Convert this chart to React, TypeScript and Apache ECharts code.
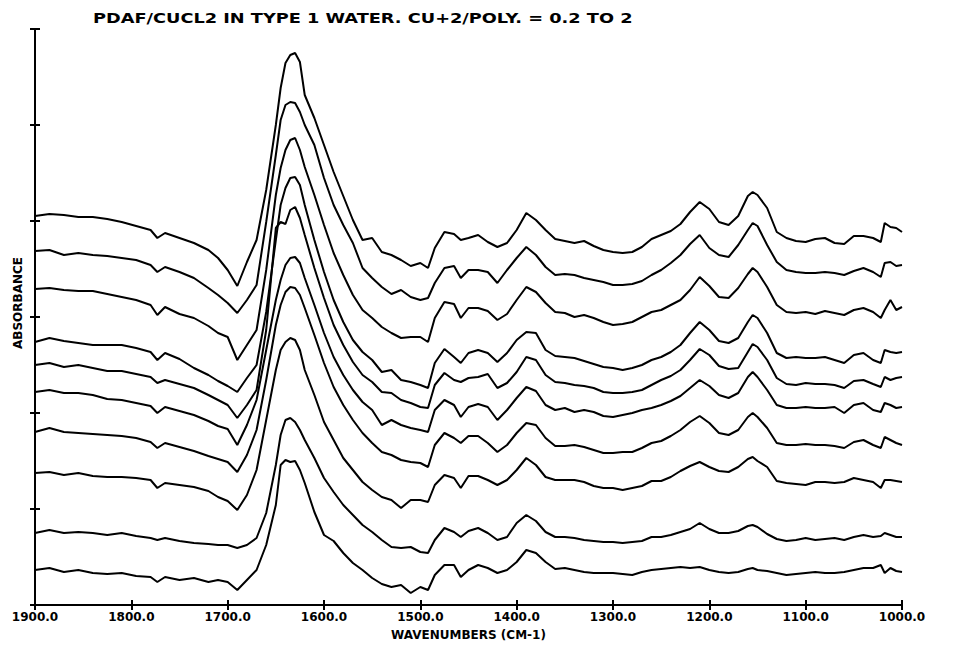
import React, { useEffect, useRef } from "react";
import * as echarts from "echarts";

// Wavenumbers (cm-1) at which the ten spectra were read
const wavenumbers = [
  1900, 1885, 1870, 1855, 1840, 1825, 1810, 1795, 1780, 1773, 1765, 1750, 1735, 1720, 1710, 1700,
  1690, 1680, 1670, 1660, 1650, 1645, 1640, 1635, 1630, 1625, 1620, 1610, 1600, 1590, 1580, 1570, 1560, 1550, 1540, 1530, 1520, 1510, 1500,
  1492, 1485, 1475, 1465, 1458, 1450, 1440, 1430, 1420, 1410, 1400,
  1390, 1380, 1370, 1360, 1350, 1340, 1330, 1320, 1310, 1300, 1290, 1280, 1270, 1260, 1250, 1240, 1230, 1220, 1210, 1200, 1190, 1180, 1170, 1160,
  1155, 1150,
  1140, 1130, 1120, 1110, 1100, 1090, 1080, 1070, 1060, 1050, 1040, 1030,
  1022, 1018, 1012, 1006, 1000,
];

// Offset absorbance (arbitrary units) of each stacked trace, top to bottom
const trace1 = [
  389, 391, 390, 388, 388, 386, 383, 379, 375, 367, 372, 367, 362, 355, 347, 335,
  319, 343, 365, 415, 480, 517, 542, 550, 552, 543, 510, 487, 460, 433, 409, 385, 365, 367, 353, 350, 345, 339, 342,
  337, 357, 373, 371, 365, 367, 370, 363, 358, 362, 375,
  392, 385, 375, 366, 364, 362, 364, 359, 355, 353, 352, 353, 358, 366, 370, 374, 381, 393, 403, 396, 383, 380, 389, 409,
  413, 410,
  397, 373, 367, 364, 363, 366, 367, 362, 361, 369, 369, 367,
  363, 382, 378, 377, 373,
];
const trace2 = [
  354, 355, 350, 352, 350, 349, 347, 345, 340, 333, 338, 333, 327, 317, 310, 302,
  292, 305, 320, 383, 450, 485, 500, 503, 502, 493, 480, 460, 427, 400, 380, 362, 337, 327, 318, 311, 315, 308, 305,
  307, 322, 337, 339, 327, 335, 335, 333, 322, 335, 347,
  358, 350, 338, 330, 331, 330, 327, 325, 323, 320, 320, 321, 324, 330, 335, 342, 350, 361, 370, 357, 350, 348, 360, 375,
  382, 379,
  360, 343, 335, 333, 332, 332, 333, 332, 330, 334, 337, 333,
  328, 342, 343, 339, 340,
];
const trace3 = [
  316, 317, 315, 314, 314, 311, 308, 305, 300, 290, 298, 291, 287, 279, 272, 268,
  245, 260, 275, 335, 410, 437, 455, 465, 467, 455, 438, 410, 380, 352, 330, 310, 295, 287, 278, 272, 267, 268, 268,
  263, 287, 303, 301, 287, 297, 297, 294, 285, 291, 305,
  318, 313, 302, 293, 292, 288, 290, 287, 283, 280, 281, 283, 288, 293, 295, 300, 305, 315, 328, 319, 308, 307, 317, 331,
  337, 333,
  318, 300, 293, 292, 293, 291, 294, 292, 290, 295, 297, 293,
  287, 295, 305, 295, 298,
];
const trace4 = [
  263, 267, 264, 262, 260, 260, 260, 257, 253, 245, 252, 246, 237, 230, 224, 219,
  213, 227, 240, 293, 365, 400, 417, 427, 428, 420, 400, 365, 333, 305, 283, 265, 253, 245, 233, 235, 225, 223, 220,
  217, 242, 256, 248, 242, 252, 255, 252, 243, 252, 265,
  273, 272, 255, 249, 248, 247, 244, 241, 238, 237, 235, 237, 240, 245, 248, 253, 260, 272, 283, 275, 264, 262, 267, 283,
  290, 287,
  272, 252, 247, 248, 247, 247, 248, 245, 242, 250, 252, 245,
  242, 255, 253, 252, 253,
];
const trace5 = [
  240, 242, 238, 240, 237, 234, 234, 231, 228, 222, 225, 221, 217, 210, 205, 200,
  187, 200, 215, 275, 377, 383, 381, 395, 398, 387, 370, 337, 307, 280, 260, 243, 230, 223, 213, 212, 205, 202, 198,
  197, 220, 232, 225, 223, 227, 228, 231, 217, 222, 233,
  248, 245, 230, 223, 222, 220, 219, 217, 213, 212, 212, 213, 215, 220, 225, 229, 235, 245, 256, 250, 239, 236, 237, 253,
  261, 258,
  245, 227, 221, 220, 222, 221, 221, 220, 217, 224, 225, 221,
  218, 228, 225, 227, 228,
];
const trace6 = [
  213, 215, 212, 212, 210, 206, 205, 202, 199, 192, 198, 194, 190, 184, 179, 176,
  160, 180, 205, 255, 305, 325, 340, 347, 348, 342, 327, 300, 272, 248, 230, 215, 203, 195, 180, 185, 180, 177, 175,
  173, 195, 205, 200, 188, 198, 201, 198, 185, 195, 207,
  218, 214, 200, 195, 197, 193, 195, 193, 189, 188, 190, 192, 195, 197, 200, 204, 209, 217, 225, 219, 210, 207, 212, 228,
  233, 228,
  215, 200, 197, 197, 198, 197, 197, 198, 192, 200, 202, 195,
  193, 202, 200, 197, 198,
];
const trace7 = [
  173, 177, 173, 172, 171, 170, 169, 167, 163, 157, 162, 158, 154, 149, 146, 143,
  133, 150, 175, 225, 280, 300, 313, 318, 317, 310, 297, 270, 242, 218, 200, 185, 172, 162, 153, 150, 145, 143, 142,
  138, 160, 172, 167, 162, 169, 169, 162, 153, 160, 172,
  182, 180, 167, 159, 159, 160, 158, 155, 152, 152, 153, 153, 157, 162, 164, 169, 175, 183, 189, 182, 172, 170, 175, 188,
  192, 188,
  177, 162, 160, 160, 161, 160, 160, 159, 157, 163, 165, 160,
  157, 168, 165, 162, 160,
];
const trace8 = [
  132, 133, 130, 132, 129, 128, 128, 127, 125, 117, 122, 120, 118, 114, 108, 104,
  95, 110, 135, 185, 235, 255, 263, 267, 265, 255, 235, 210, 183, 165, 147, 135, 123, 115, 108, 105, 97, 105, 105,
  103, 120, 130, 127, 117, 129, 129, 125, 120, 125, 135,
  147, 140, 128, 125, 125, 125, 123, 119, 117, 117, 115, 117, 119, 124, 124, 128, 134, 139, 143, 138, 134, 133, 138, 146,
  148, 144,
  138, 124, 122, 121, 120, 123, 123, 122, 123, 127, 125, 123,
  117, 125, 125, 124, 123,
];
const trace9 = [
  72, 75, 72, 73, 72, 70, 72, 69, 67, 65, 67, 64, 62, 61, 60, 60,
  57, 60, 67, 92, 140, 170, 185, 187, 183, 175, 165, 147, 127, 113, 100, 90, 80, 73, 65, 58, 57, 58, 53,
  52, 65, 77, 73, 68, 74, 77, 72, 65, 68, 82,
  90, 84, 73, 68, 68, 67, 65, 64, 63, 63, 62, 63, 64, 68, 68, 70, 73, 76, 82, 76, 72, 72, 74, 79,
  80, 78,
  71, 66, 64, 65, 67, 65, 66, 67, 65, 68, 70, 68,
  69, 72, 70, 68, 68,
];
const trace10 = [
  35, 37, 33, 35, 32, 31, 32, 29, 28, 23, 28, 25, 27, 23, 25, 23,
  15, 25, 35, 60, 100, 140, 145, 143, 144, 135, 122, 93, 70, 64, 52, 42, 35, 27, 21, 18, 20, 12, 18,
  15, 30, 40, 40, 28, 35, 40, 37, 32, 35, 43,
  55, 52, 43, 36, 37, 35, 33, 32, 32, 32, 31, 30, 33, 35, 36, 37, 38, 37, 38, 35, 33, 32, 33, 36,
  37, 35,
  34, 32, 30, 31, 32, 33, 32, 32, 33, 35, 37, 37,
  40, 32, 37, 34, 33,
];
const traces = [trace1, trace2, trace3, trace4, trace5, trace6, trace7, trace8, trace9, trace10];

const titleText = "PDAF/CUCL2 IN TYPE 1 WATER. CU+2/POLY. = 0.2 TO 2";
const xAxisTitle = "WAVENUMBERS (CM-1)";
const yAxisTitle = "ABSORBANCE";
const xMin = 1000;
const xMax = 1900;
const xStep = 100;
const yMin = 0;
const yMax = 576;
const yStep = 96;

const FONT = '"DejaVu Sans", "Liberation Sans", sans-serif';

function textWidth(text: string, font: string): number {
  const c = document.createElement("canvas").getContext("2d");
  if (!c) return text.length * 8;
  c.font = font;
  return c.measureText(text).width;
}

export default function App() {
  const ref = useRef<HTMLDivElement>(null);

  useEffect(() => {
    if (!ref.current) return;
    const chart = echarts.init(ref.current, undefined, { renderer: "svg" });

    const titleFont = `bold 14px ${FONT}`;
    const titleTarget = 540;
    const titleScale = titleTarget / textWidth(titleText, titleFont);

    const baseX = {
      type: "value" as const,
      min: xMin,
      max: xMax,
      interval: xStep,
      inverse: true,
      position: "bottom" as const,
      splitLine: { show: false },
    };
    const baseY = {
      type: "value" as const,
      min: yMin,
      max: yMax,
      interval: yStep,
      position: "left" as const,
      splitLine: { show: false },
    };

    chart.setOption({
      animation: false,
      backgroundColor: "#ffffff",
      textStyle: { fontFamily: FONT },
      grid: { left: 35, right: 53, top: 29, bottom: 45, containLabel: false },
      xAxis: [
        {
          ...baseX,
          axisLine: { show: true, onZero: false, lineStyle: { color: "#000", width: 2 } },
          axisTick: { show: true, inside: false, length: 5, lineStyle: { color: "#000", width: 2 } },
          axisLabel: {
            show: true,
            color: "#000",
            fontFamily: FONT,
            fontSize: 12,
            fontWeight: "bold",
            margin: 6,
            formatter: (v: number) => v.toFixed(1),
          },
          name: xAxisTitle,
          nameLocation: "middle",
          nameGap: 24,
          nameTextStyle: { color: "#000", fontFamily: FONT, fontSize: 12, fontWeight: "bold" },
        },
        {
          ...baseX,
          axisLine: { show: false, onZero: false },
          axisTick: { show: true, inside: true, length: 5, lineStyle: { color: "#000", width: 2 } },
          axisLabel: { show: false },
        },
      ],
      yAxis: [
        {
          ...baseY,
          axisLine: { show: true, onZero: false, lineStyle: { color: "#000", width: 2 } },
          axisTick: { show: true, inside: false, length: 5, lineStyle: { color: "#000", width: 2 } },
          axisLabel: { show: false },
        },
        {
          ...baseY,
          axisLine: { show: false, onZero: false },
          axisTick: { show: true, inside: true, length: 5, lineStyle: { color: "#000", width: 2 } },
          axisLabel: { show: false },
        },
      ],
      graphic: [
        {
          type: "text",
          x: 93,
          y: 18,
          scaleX: titleScale,
          style: {
            text: titleText,
            font: titleFont,
            fill: "#000",
            textAlign: "left",
            textVerticalAlign: "middle",
          },
        },
        {
          type: "text",
          x: 18,
          y: 303,
          rotation: Math.PI / 2,
          style: {
            text: yAxisTitle,
            font: `bold 12px ${FONT}`,
            fill: "#000",
            textAlign: "center",
            textVerticalAlign: "middle",
          },
        },
      ],
      series: traces.map((t, k) => ({
        type: "line",
        name: `trace ${k + 1}`,
        xAxisIndex: 0,
        yAxisIndex: 0,
        data: wavenumbers.map((w, i) => [w, t[i]]),
        showSymbol: false,
        symbol: "none",
        smooth: false,
        lineStyle: { color: "#000", width: 2 },
        silent: true,
      })),
    });

    return () => chart.dispose();
  }, []);

  return <div ref={ref} style={{ width: 955, height: 650, margin: -8 }} />;
}
